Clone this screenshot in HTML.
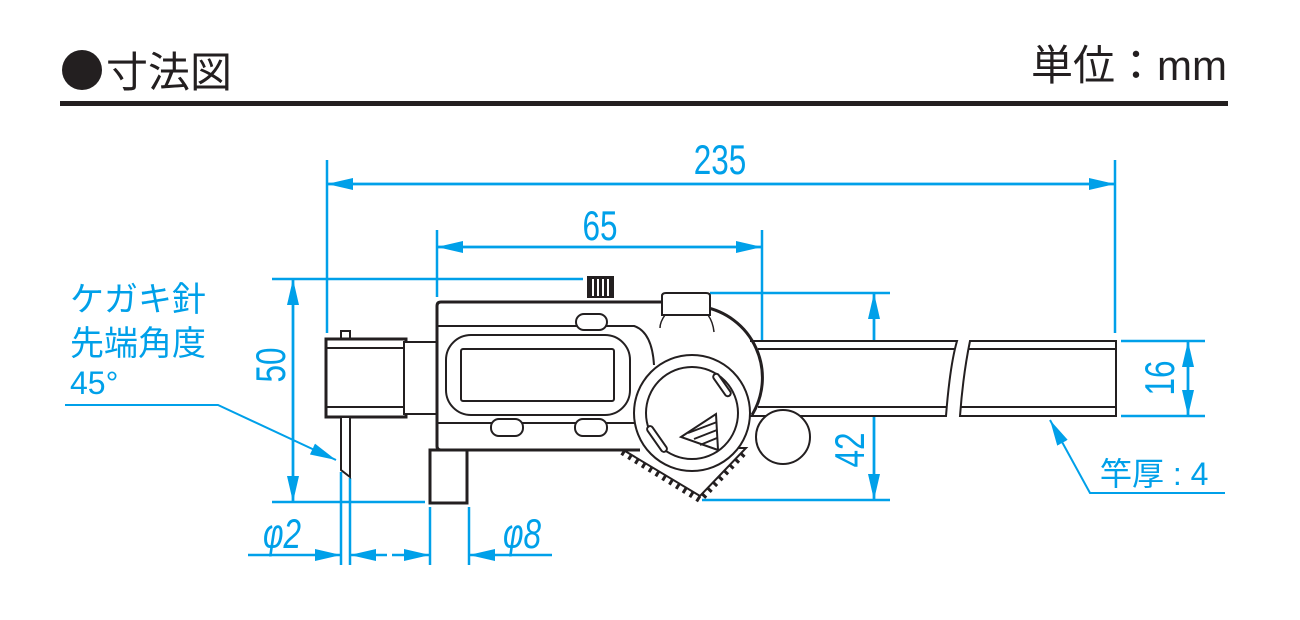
<!DOCTYPE html>
<html><head><meta charset="utf-8"><style>
html,body{margin:0;padding:0;background:#fff;}
svg{display:block}
text{font-family:"Liberation Sans","Noto Sans CJK JP",sans-serif;}
</style></head><body>
<svg width="1300" height="620" viewBox="0 0 1300 620" xmlns="http://www.w3.org/2000/svg">
<defs>
<marker id="a" viewBox="0 0 26 12" refX="26" refY="6" markerWidth="26" markerHeight="12" markerUnits="userSpaceOnUse" orient="auto"><path d="M0,0 L26,6 L0,12 z" fill="#00a0e9"/></marker>
</defs>
<circle cx="82" cy="70" r="20" fill="#231f20"/>
<text x="106" y="87" font-size="42" fill="#231f20">寸法図</text>
<text x="1227" y="80" font-size="42" fill="#231f20" text-anchor="end">単位：mm</text>
<rect x="60" y="101" width="1168" height="5" fill="#231f20"/>

<g stroke="#00a0e9" stroke-width="2.5" fill="none">
<line x1="327" y1="160" x2="327" y2="333"/><line x1="1115" y1="160" x2="1115" y2="333"/>
<line x1="327" y1="184" x2="1115" y2="184" marker-end="url(#a)"/>
<line x1="1115" y1="184" x2="327" y2="184" marker-end="url(#a)"/>
<line x1="437" y1="230" x2="437" y2="297"/><line x1="762" y1="230" x2="762" y2="350"/>
<line x1="437" y1="247" x2="762" y2="247" marker-end="url(#a)"/>
<line x1="762" y1="247" x2="437" y2="247" marker-end="url(#a)"/>
<line x1="272" y1="279" x2="583" y2="279"/><line x1="272" y1="502" x2="425" y2="502"/>
<line x1="293" y1="279" x2="293" y2="502" marker-end="url(#a)"/>
<line x1="293" y1="502" x2="293" y2="279" marker-end="url(#a)"/>
<line x1="710" y1="293" x2="890" y2="293"/><line x1="702" y1="500" x2="890" y2="500"/>
<line x1="874" y1="293" x2="874" y2="500" marker-end="url(#a)"/>
<line x1="874" y1="500" x2="874" y2="293" marker-end="url(#a)"/>
<line x1="1121" y1="341" x2="1205" y2="341"/><line x1="1121" y1="416" x2="1205" y2="416"/>
<line x1="1188" y1="341" x2="1188" y2="416" marker-end="url(#a)"/>
<line x1="1188" y1="416" x2="1188" y2="341" marker-end="url(#a)"/>
<line x1="341" y1="472" x2="341" y2="565"/><line x1="350" y1="478" x2="350" y2="565"/>
<line x1="430" y1="507" x2="430" y2="565"/><line x1="469" y1="507" x2="469" y2="565"/>
<line x1="248" y1="555" x2="341" y2="555" marker-end="url(#a)"/>
<line x1="387" y1="555" x2="350" y2="555" marker-end="url(#a)"/>
<line x1="392" y1="555" x2="430" y2="555" marker-end="url(#a)"/>
<line x1="552" y1="555" x2="469" y2="555" marker-end="url(#a)"/>
<polyline points="65,405 218,405 336,460" marker-end="url(#a)" stroke-width="2"/>
<polyline points="1225,493 1090,493 1050,420" marker-end="url(#a)" stroke-width="2"/>
</g>

<g fill="#00a0e9" font-size="42">
<text transform="translate(720,174) scale(0.75,1)" text-anchor="middle">235</text>
<text transform="translate(600,240) scale(0.75,1)" text-anchor="middle">65</text>
<text transform="translate(285,365) rotate(-90) scale(0.75,1)" text-anchor="middle">50</text>
<text transform="translate(864,450) rotate(-90) scale(0.75,1)" text-anchor="middle">42</text>
<text transform="translate(1174,378) rotate(-90) scale(0.75,1)" text-anchor="middle">16</text>
<text transform="translate(282,548) scale(0.75,1)" text-anchor="middle" font-style="italic">φ2</text>
<text transform="translate(522,548) scale(0.75,1)" text-anchor="middle" font-style="italic">φ8</text>
<text x="70" y="311" font-size="34">ケガキ針</text>
<text x="70" y="355" font-size="34">先端角度</text>
<text x="70" y="394" font-size="32">45°</text>
<text x="1100" y="485" font-size="32">竿厚 : 4</text>
</g>

<g stroke="#231f20" stroke-width="2" fill="#fff">
<rect x="341" y="331" width="9" height="10"/>
<rect x="326" y="339" width="80" height="78" stroke-width="3"/>
<rect x="404" y="342" width="33" height="72"/>
<line x1="327" y1="348" x2="404" y2="348"/><line x1="327" y1="407" x2="404" y2="407"/>
<path d="M341,418 V470 L350,477 V418" />
<rect x="430" y="450" width="37" height="53" stroke-width="3"/>
<path d="M622,452 L700,500 L745,452" stroke-dasharray="3,5" stroke-width="6" fill="none"/>
<path d="M620,448 L700,496 L746,448 Z" stroke-width="2"/>
<circle cx="690" cy="378" r="72" stroke="none"/>
<path d="M750,341 H957 Q950,365 946,416 H750 Z" stroke="none"/>
<path d="M750,341 H957 Q950,365 946,416 H750" fill="none"/>
<path d="M970,341 H1116 V416 H960 Q963,375 970,341 Z"/>
<line x1="758" y1="349" x2="955" y2="349"/><line x1="758" y1="407" x2="947" y2="407"/>
<line x1="968" y1="349" x2="1116" y2="349"/><line x1="961" y1="407" x2="1116" y2="407"/>
<path d="M437,306 Q437,302 441,302 H706 V450 H441 Q437,450 437,446 Z" stroke="none"/>
<path d="M706,302 H441 Q437,302 437,306 V446 Q437,450 441,450 H640" fill="none" stroke-width="3"/>
<path d="M438,326 H634 Q652,332 654,365 M438,423 H636" fill="none"/>
<rect x="446" y="335" width="184" height="80" rx="25"/>
<rect x="461" y="349" width="153" height="52" rx="2"/>
<rect x="576" y="314" width="31" height="16" rx="8"/>
<rect x="491" y="419" width="32" height="17" rx="8"/>
<rect x="575" y="419" width="32" height="17" rx="8"/>
<path d="M704,307 A72,72 0 0 1 752,415" fill="none" stroke-width="3"/>
<circle cx="692" cy="413" r="58"/>
<circle cx="692" cy="413" r="46"/>
<rect x="719" y="372" width="6" height="26" rx="3" transform="rotate(-35 722 385)"/>
<rect x="654" y="424" width="6" height="30" rx="3" transform="rotate(-35 657 439)"/>
<path d="M681,437 L716,414 L718,450 Z" fill="none"/>
<line x1="688" y1="433" x2="717" y2="422"/><line x1="694" y1="439" x2="717" y2="430"/><line x1="700" y1="445" x2="717" y2="438"/>
<circle cx="783" cy="437" r="27"/>
<path d="M662,315 V296 Q662,293 666,293 H706 Q710,293 710,296 V315 Z"/>
<path d="M665,315 Q660,322 660,328 M708,315 Q713,322 714,332" fill="none" stroke-width="1.5"/>
<rect x="588" y="277" width="25" height="20" fill="#231f20"/>
<line x1="593" y1="279" x2="593" y2="296" stroke="#fff"/><line x1="598" y1="279" x2="598" y2="296" stroke="#fff"/><line x1="603" y1="279" x2="603" y2="296" stroke="#fff"/><line x1="608" y1="279" x2="608" y2="296" stroke="#fff"/>
</g>
</svg>
</body></html>
